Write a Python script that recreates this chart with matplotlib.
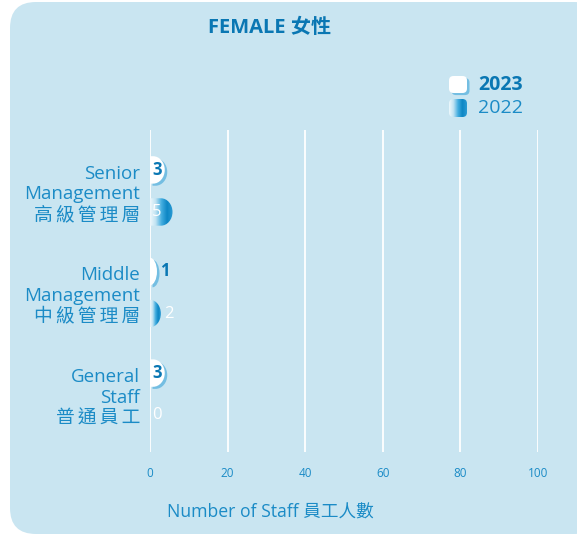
import matplotlib
matplotlib.use("Agg")
import matplotlib.pyplot as plt
import numpy as np
from matplotlib.path import Path
from matplotlib.patches import PathPatch, FancyBboxPatch
from matplotlib.colors import LinearSegmentedColormap
import matplotlib.patheffects as pe

FONT = ["Open Sans", "Noto Sans CJK TC", "DejaVu Sans"]
plt.rcParams["font.family"] = FONT

BG = "#c9e5f1"
BLUE = "#1b8bc6"
DARK = "#0a77b3"

categories = ["Senior\nManagement\n高級管理層",
              "Middle\nManagement\n中級管理層",
              "General\nStaff\n普通員工"]
staff_2023 = [3, 1, 3]
staff_2022 = [5, 2, 0]
x_ticks = [0, 20, 40, 60, 80, 100]

OFF = 0.207   # bar offset from group centre
H = 0.27      # bar height
OVER = 0.8    # rounded end runs a little past the value
CAP = 3.0     # max length of the rounded end, data units

grad = LinearSegmentedColormap.from_list(
    "g", ["#eef8fc", "#bfe2f2", "#44aee0", "#0d86c4", "#2a9bd4"])


def capsule(v, yc, h):
    end = v + OVER
    s = max(end - CAP, 0)
    rx = end - s
    y0, y1 = yc - h / 2, yc + h / 2
    k = 0.5523
    verts = [(0, y0), (s, y0),
             (s + rx * k, y0), (end, yc - h / 2 * k), (end, yc),
             (end, yc + h / 2 * k), (s + rx * k, y1), (s, y1),
             (0, y1), (0, y0)]
    codes = [Path.MOVETO, Path.LINETO,
             Path.CURVE4, Path.CURVE4, Path.CURVE4,
             Path.CURVE4, Path.CURVE4, Path.CURVE4,
             Path.LINETO, Path.CLOSEPOLY]
    return Path(verts, codes)


def shadow():
    return [pe.SimplePatchShadow(offset=(1.8, -1.5), shadow_rgbFace="#2f9fd6",
                                 alpha=0.55),
            pe.Normal()]


def spaced(label):
    # the Chinese line is set with a little letter spacing
    lines = label.split("\n")
    lines[-1] = "\u2009".join(lines[-1])
    return "\n".join(lines)


fig = plt.figure(figsize=(5.77, 5.36), dpi=100)
fig.patch.set_facecolor("white")

# rounded panel behind everything
panel = FancyBboxPatch((0.10, 0.02), 5.9, 5.32,
                       boxstyle="round,pad=0,rounding_size=0.26",
                       transform=fig.dpi_scale_trans, facecolor=BG,
                       edgecolor="none", zorder=-10)
fig.patches.append(panel)

ax = fig.add_axes([150 / 577, 1 - 452 / 536, 388 / 577, 322 / 536])
ax.set_facecolor("none")
ax.set_xlim(0, 100)
ax.set_ylim(2.57, -0.6)

for x in x_ticks:
    ax.axvline(x, color="white", linewidth=1.3, zorder=1)

ys = np.arange(len(categories))
for i, y in enumerate(ys):
    # 2023 - white capsule with soft blue shadow
    v = staff_2023[i]
    if v > 0:
        p = PathPatch(capsule(v, y - OFF, H), facecolor="white",
                      edgecolor="none", zorder=3)
        p.set_path_effects(shadow())
        ax.add_patch(p)
    # 2022 - gradient capsule
    v = staff_2022[i]
    if v > 0:
        p = PathPatch(capsule(v, y + OFF, H), facecolor="none",
                      edgecolor="none", zorder=3)
        ax.add_patch(p)
        im = ax.imshow(np.linspace(0, 1, 64).reshape(1, -1), cmap=grad,
                       extent=(0, v + OVER, y + OFF + H / 2, y + OFF - H / 2),
                       aspect="auto", zorder=3, interpolation="bilinear")
        im.set_clip_path(p)

    # value labels
    for vals, dy, col, wt in ((staff_2023, -OFF, DARK, "bold"),
                              (staff_2022, OFF, "white", "normal")):
        v = vals[i]
        tx = 0.6 if (v >= 3 or v == 0) else v + OVER + 0.9
        ax.text(tx, y + dy, str(v), ha="left", va="center", fontsize=12,
                fontweight=wt, color=col, zorder=4)

ax.set_xlim(0, 100)
ax.set_ylim(2.57, -0.6)
ax.set_xticks(x_ticks)
ax.set_xticklabels([str(t) for t in x_ticks], fontsize=8.5, color=BLUE)
ax.set_yticks(ys)
ax.set_yticklabels([spaced(c) for c in categories], fontsize=13.5,
                   color=BLUE, linespacing=1.2)
for lab in ax.get_yticklabels():
    lab.set_multialignment("right")
ax.tick_params(axis="x", length=0, pad=11)
ax.tick_params(axis="y", length=0, pad=7)
for s in ax.spines.values():
    s.set_visible(False)

fig.text(270 / 577, 1 - 28 / 536, "FEMALE 女性", ha="center", va="center",
         fontsize=14.5, fontweight="bold", color=DARK)
fig.text(270 / 577, 1 - 513 / 536, "Number of Staff 員工人數", ha="center",
         va="center", fontsize=12.7, color=BLUE)

# legend
sw = FancyBboxPatch((4.49, 5.36 - 0.93), 0.18, 0.17,
                    boxstyle="round,pad=0,rounding_size=0.045",
                    transform=fig.dpi_scale_trans, facecolor="white",
                    edgecolor="none", zorder=5)
sw.set_path_effects(shadow())
fig.patches.append(sw)
lax = fig.add_axes([449 / 577, 1 - 117 / 536, 18 / 577, 18 / 536])
lax.set_axis_off()
clip = FancyBboxPatch((0, 0), 1, 1, boxstyle="round,pad=0,rounding_size=0.25",
                      transform=lax.transAxes, facecolor="none", edgecolor="none")
lax.add_patch(clip)
im = lax.imshow(np.linspace(0, 1, 64).reshape(1, -1), cmap=grad,
                extent=(0, 1, 0, 1), aspect="auto", interpolation="bilinear")
im.set_clip_path(clip)
fig.text(478 / 577, 1 - 85 / 536, "2023", ha="left", va="center",
         fontsize=14, fontweight="bold", color=DARK)
fig.text(478 / 577, 1 - 108 / 536, "2022", ha="left", va="center",
         fontsize=14, color=BLUE)

fig.savefig("out.png", dpi=100, facecolor="white")
